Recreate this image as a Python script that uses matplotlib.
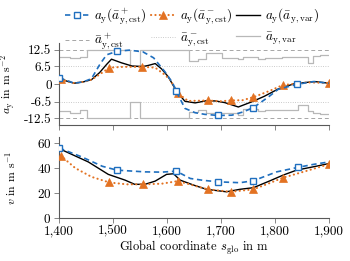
import numpy as np
import matplotlib.pyplot as plt
from matplotlib.lines import Line2D

plt.rcParams['font.family'] = 'serif'
plt.rcParams['font.serif'] = ['cmr10']
plt.rcParams['mathtext.fontset'] = 'cm'
plt.rcParams['font.size'] = 8
plt.rcParams['axes.formatter.use_mathtext'] = True

blue = '#1f6fbf'
orange = '#e37222'

# lateral acceleration a_y over global coordinate
s_blue_a = [1400, 1428, 1445, 1460, 1476, 1488, 1507, 1530, 1555, 1575, 1596, 1610, 1617,
            1633, 1652, 1670, 1695, 1720, 1741, 1760, 1788, 1806, 1841, 1871, 1900]
a_blue = [2.3, 0.3, 0.8, 2.0, 7.4, 10.7, 12.0, 12.4, 11.8, 9.6, 4.5, 0.5, -2.6,
          -8.9, -10.5, -11.1, -11.5, -11.4, -10.2, -8.6, -4.7, -1.9, -0.1, 0.9, 0.3]
mk_blue_a = [0, 6, 12, 16, 19, 22]

s_orange_a = [1403, 1428, 1445, 1460, 1475, 1493, 1520, 1554, 1578, 1595, 1606, 1620,
              1639, 1675, 1700, 1718, 1740, 1760, 1790, 1814, 1860, 1900]
a_orange = [1.7, 0.3, 0.8, 1.6, 3.5, 6.0, 6.3, 6.3, 6.0, 3.5, 1.5, -3.4,
            -6.2, -6.0, -6.3, -6.0, -5.9, -4.8, -2.5, -0.4, 0.6, 0.4]
mk_orange_a = [0, 5, 7, 11, 13, 15, 17, 19, 21]

s_black_a = [1400, 1415, 1428, 1445, 1460, 1475, 1488, 1497, 1515, 1535, 1555, 1565, 1578,
             1590, 1602, 1618, 1633, 1652, 1673, 1690, 1707, 1732, 1757, 1780, 1806,
             1837, 1874, 1900]
a_black = [2.2, 1.0, 0.3, 0.8, 1.6, 4.2, 7.2, 9.1, 7.8, 6.6, 6.4, 6.8, 7.5,
           5.5, 2.7, -2.8, -6.3, -6.9, -6.1, -6.2, -6.8, -8.4, -6.5, -4.5, -1.8,
           0.2, 0.9, 0.3]

# limits
a_cst_hi = 12.5
a_cst_lo = 6.5
s_step = [1400, 1420, 1439, 1451, 1531, 1550, 1640, 1658, 1673, 1701, 1732, 1741,
          1769, 1781, 1812, 1843, 1862, 1871, 1883, 1900]
a_var_hi = [10.0, 9.5, 10.0, 12.5, 6.5, 12.5, 8.3, 9.0, 11.2, 9.6, 9.0, 9.8,
            9.2, 9.6, 9.8, 10.0, 7.8, 10.3, 10.5, 10.5]
a_var_lo = [-10.0, -10.6, -9.4, -12.5, -6.5, -12.5, -10.3, -9.4, -10.7, -10.5, -11.2, -9.0,
            -10.0, -9.4, -9.4, -7.8, -10.0, -10.6, -10.8, -10.8]

# velocity
s_blue_v = [1400, 1442, 1480, 1507, 1559, 1590, 1617, 1643, 1667, 1695, 1735, 1760,
            1803, 1842, 1871, 1900]
v_blue = [56.2, 49.0, 41.5, 38.4, 37.0, 36.8, 37.6, 31.7, 30.2, 29.0, 28.3, 29.9,
          37.0, 40.6, 43.0, 45.0]
mk_blue_v = [0, 3, 6, 9, 11, 13]

s_orange_v = [1403, 1430, 1460, 1493, 1525, 1555, 1590, 1620, 1650, 1675, 1718, 1760,
              1790, 1814, 1860, 1900]
v_orange = [50.0, 40.0, 33.0, 28.5, 27.0, 27.0, 27.5, 29.6, 26.0, 23.0, 21.0, 23.0,
            28.0, 32.2, 38.0, 43.2]
mk_orange_v = [0, 3, 5, 7, 9, 10, 11, 13, 15]

s_black_v = [1400, 1454, 1491, 1522, 1540, 1559, 1578, 1599, 1612, 1624, 1649, 1673,
             1710, 1735, 1760, 1791, 1815, 1840, 1877, 1900]
v_black = [55.7, 45.0, 35.0, 30.4, 27.0, 27.0, 29.6, 35.0, 35.5, 30.4, 26.4, 23.0,
           21.0, 23.0, 24.3, 29.9, 34.4, 38.4, 41.6, 43.7]

xticks = [1400, 1500, 1600, 1700, 1800, 1900]
xticklabels = ['1,400', '1,500', '1,600', '1,700', '1,800', '1,900']
aticks = [-12.5, -6.5, 0, 6.5, 12.5]
aticklabels = ['-12.5', '-6.5', '0', '6.5', '12.5']
vticks = [0, 20, 40, 60]

fig = plt.figure(figsize=(3.5, 2.61), dpi=100)
ax1 = fig.add_axes([0.169, 0.521, 0.771, 0.314])
ax2 = fig.add_axes([0.169, 0.165, 0.771, 0.31])

blue_kw = dict(color=blue, ls=(0, (3.2, 2.2)), lw=1.2, marker='s', ms=5,
               mfc='white', mec=blue, mew=1.0)
orange_kw = dict(color=orange, ls=(0, (0.1, 2.0)), lw=1.5, dash_capstyle='round',
                 marker='^', ms=5.5, mfc=orange, mec=orange, mew=0.5)
black_kw = dict(color='black', lw=1.0)

for y in [a_cst_hi, -a_cst_hi]:
    ax1.axhline(y, color='0.65', ls=(0, (4, 3)), lw=0.7, zorder=1)
for y in [a_cst_lo, -a_cst_lo]:
    ax1.axhline(y, color='0.75', ls=(0, (0.8, 1.6)), lw=0.7, zorder=1)
ax1.plot(s_step, a_var_hi, drawstyle='steps-post', color='0.72', lw=0.9, zorder=1)
ax1.plot(s_step, a_var_lo, drawstyle='steps-post', color='0.72', lw=0.9, zorder=1)

ax1.plot(s_black_a, a_black, zorder=3, **black_kw)
ax1.plot(s_orange_a, a_orange, markevery=mk_orange_a, zorder=4, **orange_kw)
ax1.plot(s_blue_a, a_blue, markevery=mk_blue_a, zorder=5, **blue_kw)

ax2.plot(s_black_v, v_black, zorder=3, **black_kw)
ax2.plot(s_orange_v, v_orange, markevery=mk_orange_v, zorder=4, **orange_kw)
ax2.plot(s_blue_v, v_blue, markevery=mk_blue_v, zorder=5, **blue_kw)

ax1.set_ylim(-15, 15)
ax1.set_yticks(aticks)
ax1.set_yticklabels(aticklabels)
ax2.set_ylim(0, 65)
ax2.set_yticks(vticks)

for ax in (ax1, ax2):
    ax.set_xlim(1400, 1900)
    ax.set_xticks(xticks)
    for sp in ('top', 'right'):
        ax.spines[sp].set_visible(False)
    for sp in ('left', 'bottom'):
        ax.spines[sp].set_color('0.35')
        ax.spines[sp].set_linewidth(0.8)
    ax.tick_params(direction='out', length=3.5, width=0.6, color='0.45', labelsize=9.5, pad=2)
    ax.set_facecolor('none')

ax1.set_xticklabels([])
ax2.set_xticklabels(xticklabels)

ax1.set_ylabel(r'$a_\mathrm{y}$ in m s$^{-2}$', fontsize=8.5)
ax2.set_ylabel(r'$v$ in m s$^{-1}$', fontsize=8.5)
ax1.yaxis.set_label_coords(-0.152, 0.5)
ax2.yaxis.set_label_coords(-0.152, 0.5)
ax2.set_xlabel(r'Global coordinate $s_\mathrm{glo}$ in m', fontsize=9, labelpad=1)

handles = [
    Line2D([], [], **blue_kw),
    Line2D([], [], color='0.65', ls=(0, (4, 3)), lw=0.7),
    Line2D([], [], **orange_kw),
    Line2D([], [], color='0.75', ls=(0, (0.8, 1.6)), lw=0.7),
    Line2D([], [], **black_kw),
    Line2D([], [], color='0.72', lw=0.9),
]
labels = [
    r'$a_\mathrm{y}(\bar{a}^+_{\mathrm{y,cst}})$',
    r'$\bar{a}^+_{\mathrm{y,cst}}$',
    r'$a_\mathrm{y}(\bar{a}^-_{\mathrm{y,cst}})$',
    r'$\bar{a}^-_{\mathrm{y,cst}}$',
    r'$a_\mathrm{y}(\bar{a}_{\mathrm{y,var}})$',
    r'$\bar{a}_{\mathrm{y,var}}$',
]
fig.legend(handles, labels, ncol=3, loc='upper center', bbox_to_anchor=(0.55, 1.02),
           frameon=False, fontsize=9.5, handlelength=1.8, handletextpad=0.4,
           columnspacing=0.3, labelspacing=0.35)

fig.savefig('out.png', dpi=100)
